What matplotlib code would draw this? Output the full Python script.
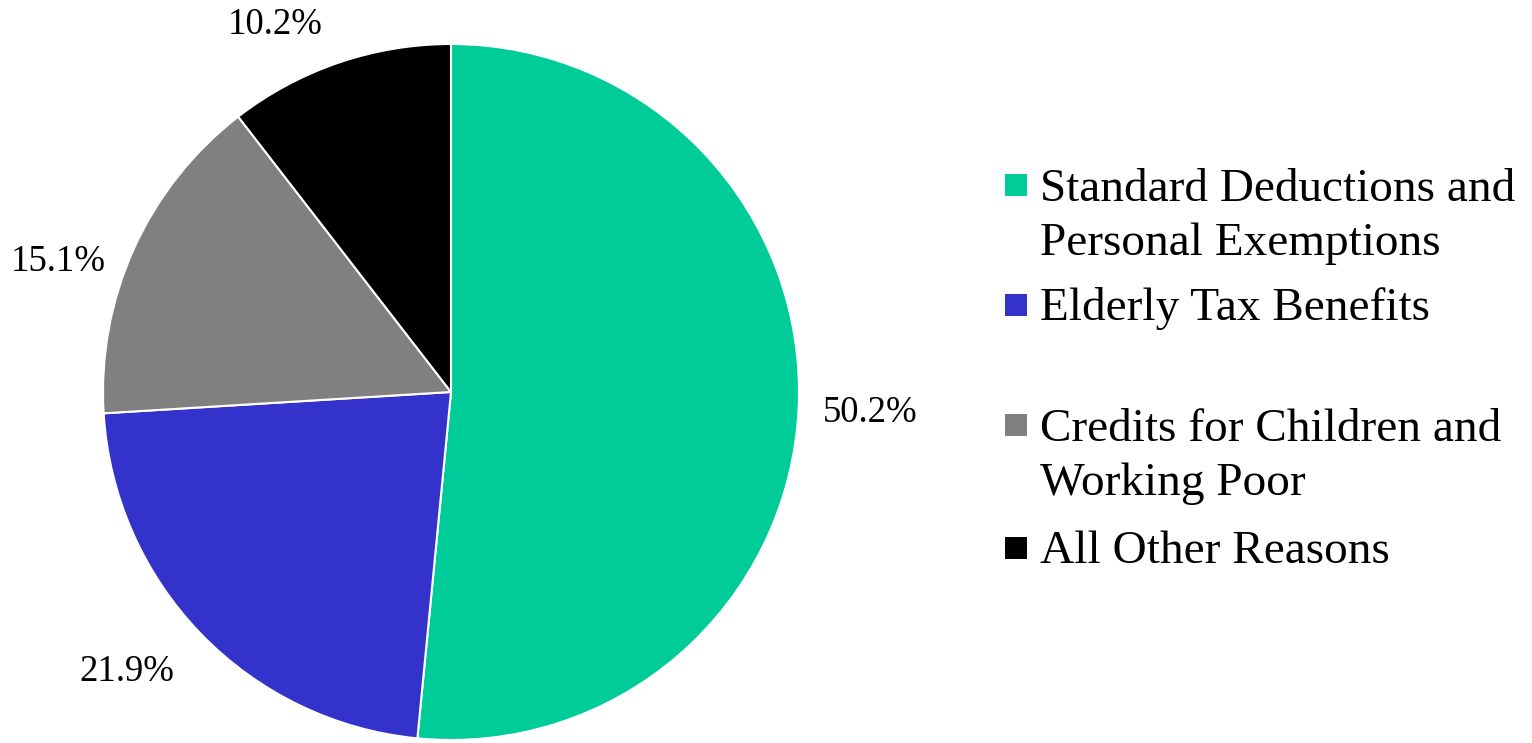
import matplotlib.pyplot as plt
from matplotlib.patches import Rectangle

plt.rcParams['font.family'] = ['Liberation Serif', 'DejaVu Serif']

categories = ['Standard Deductions and\nPersonal Exemptions', 'Elderly Tax Benefits',
              'Credits for Children and\nWorking Poor', 'All Other Reasons']
values = [50.2, 21.9, 15.1, 10.2]
value_labels = ['50.2%', '21.9%', '15.1%', '10.2%']
colors = ['#00CC99', '#3333CC', '#808080', '#000000']

W, H = 1532, 743
fig = plt.figure(figsize=(W / 100, H / 100), dpi=100)

# pie centre ~(451, 392) px, radius ~348 px
cx, cy, r = 451, 392, 348
ax = fig.add_axes([(cx - r) / W, (H - cy - r) / H, 2 * r / W, 2 * r / H])
wedges, texts = ax.pie(values, colors=colors, labels=value_labels, startangle=90,
                       counterclock=False, labeldistance=1.2,
                       wedgeprops=dict(edgecolor='white', linewidth=1.5),
                       textprops=dict(fontsize=26.5))
ax.set_xlim(-1, 1)
ax.set_ylim(-1, 1)
ax.set_aspect('equal')
for w in wedges:
    w.set_clip_on(False)

# data label spots (px) as placed in the original, Excel "best fit"
label_px = [(870, 413), (127, 672), (58, 262), (275, 25)]
for t, (px, py) in zip(texts, label_px):
    t.set_position(((px - cx) / r, (cy - py) / r))
    t.set_ha('center')
    t.set_va('center')

# legend, laid out by hand to keep the uneven spacing
baselines = [200, 320, 440, 563]   # px from top, baseline of first line
line_h = 55
for lab, col, yb in zip(categories, colors, baselines):
    fig.patches.append(Rectangle((1005 / W, 1 - (yb - 4) / H), 22 / W, 22 / H,
                                 transform=fig.transFigure, facecolor=col, edgecolor='none'))
    last = yb + line_h * lab.count('\n')   # va='baseline' uses the last line
    fig.text(1040 / W, 1 - last / H, lab, fontsize=34, va='baseline', ha='left',
             linespacing=1.35)

fig.savefig('out.png', dpi=100)
